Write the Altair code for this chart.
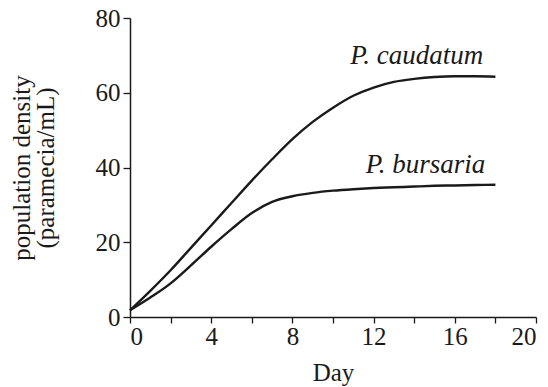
import altair as alt
import pandas as pd

days = list(range(0, 19))
caudatum = [1.8, 7.0, 12.5, 18.5, 24.5, 30.5, 36.5, 42.2, 47.6, 52.2, 56.0, 59.2,
            61.4, 62.9, 63.7, 64.2, 64.4, 64.4, 64.3]
bursaria = [1.8, 5.2, 9.0, 13.8, 18.8, 23.5, 27.8, 30.8, 32.3, 33.2, 33.8, 34.2,
            34.5, 34.7, 34.9, 35.1, 35.2, 35.3, 35.4]
species = ["P. caudatum", "P. bursaria"]
label_x = [17.4, 17.5]
label_y = [67.6, 38.6]

rows = []
for d, c, b in zip(days, caudatum, bursaria):
    rows.append({"day": d, "density": c, "species": species[0]})
    rows.append({"day": d, "density": b, "species": species[1]})
df = pd.DataFrame(rows)
labels = pd.DataFrame({"species": species, "x": label_x, "y": label_y})

FONT = "Liberation Serif"

x_scale = alt.Scale(domain=[0, 20], nice=False, zero=False)
y_scale = alt.Scale(domain=[0, 80], nice=False)

lines = alt.Chart(df).mark_line(color="#1a1a1a", strokeWidth=2.4, interpolate="monotone").encode(
    x=alt.X("day:Q", scale=x_scale,
            axis=alt.Axis(title="Day", values=list(range(0, 21, 2)),
                          labelExpr="datum.value % 4 == 0 ? datum.label : ''",
                          grid=False, tickSize=6, labelPadding=1,
                          titlePadding=11)),
    y=alt.Y("density:Q", scale=y_scale,
            axis=alt.Axis(title=["population density", "(paramecia/mL)"],
                          values=list(range(0, 81, 10)),
                          labelExpr="datum.value % 20 == 0 ? datum.label : ''",
                          grid=False, tickSize=7, labelPadding=3,
                          titlePadding=37, titleLineHeight=24)),
    detail="species:N",
)

text = alt.Chart(labels).mark_text(
    font=FONT, fontSize=27, fontStyle="italic", align="right", baseline="alphabetic",
    color="#1a1a1a"
).encode(
    x=alt.X("x:Q", scale=x_scale),
    y=alt.Y("y:Q", scale=y_scale),
    text="species:N",
)

chart = (lines + text).properties(
    width=406, height=299,
    autosize=alt.AutoSizeParams(type="none"),
    padding={"left": 130, "top": 18, "right": 12, "bottom": 70},
    background="white",
).configure_view(stroke=None).configure_axis(
    domainColor="#1a1a1a", domainWidth=1.5, tickColor="#1a1a1a", tickWidth=1.3,
    labelFont=FONT, labelFontSize=25, labelColor="#1a1a1a",
    titleFont=FONT, titleFontSize=25, titleFontWeight="normal", titleColor="#1a1a1a",
).configure_axisX(labelAngle=0)

chart.save("out.html", embed_options={"renderer": "svg", "actions": False})
